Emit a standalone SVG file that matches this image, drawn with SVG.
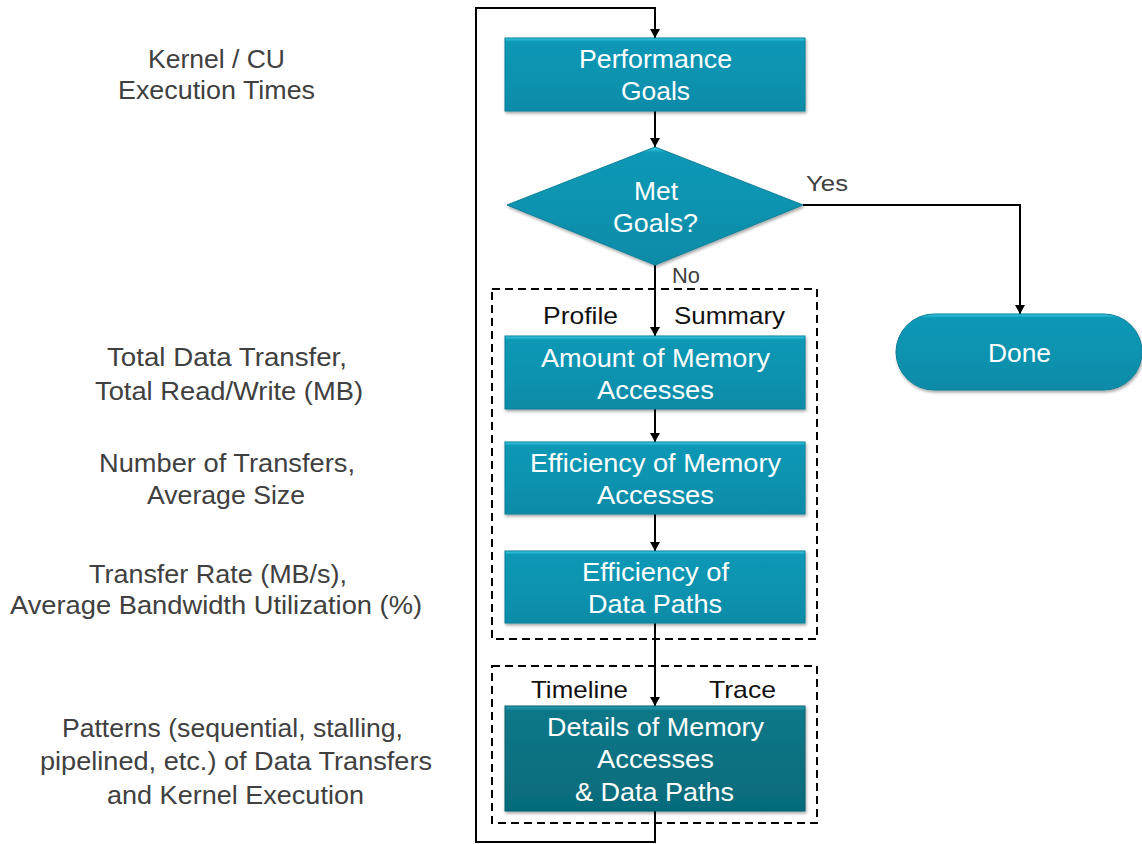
<svg xmlns="http://www.w3.org/2000/svg" width="1142" height="844" viewBox="0 0 1142 844">
<style>
.side{font-family:"Liberation Sans",Arial,sans-serif;font-size:25px;fill:#404040;text-anchor:middle}
.lbl{font-family:"Liberation Sans",Arial,sans-serif;font-size:24px;fill:#111;text-anchor:middle}
.yn{font-family:"Liberation Sans",Arial,sans-serif;font-size:22px;fill:#404040;text-anchor:middle}
.bt{font-family:"Liberation Sans",Arial,sans-serif;font-size:26px;fill:#fff;text-anchor:middle}
.box{fill:url(#g1);stroke:#0a7f98;stroke-width:1;filter:url(#sh)}
.dbox{fill:url(#g2);stroke:#075f6e;stroke-width:1;filter:url(#sh)}
.conn{fill:none;stroke:#000;stroke-width:2}
.dash{fill:none;stroke:#000;stroke-width:2;stroke-dasharray:8,5}
</style>
<defs>
<linearGradient id="g1" x1="0" y1="0" x2="0" y2="1">
<stop offset="0" stop-color="#3fd0ea"/>
<stop offset="0.05" stop-color="#0c98b5"/>
<stop offset="0.5" stop-color="#0893b0"/>
<stop offset="1" stop-color="#078ba7"/>
</linearGradient>
<linearGradient id="g2" x1="0" y1="0" x2="0" y2="1">
<stop offset="0" stop-color="#2a9fb3"/>
<stop offset="0.05" stop-color="#0b7788"/>
<stop offset="1" stop-color="#066b7b"/>
</linearGradient>
<filter id="sh" x="-10%" y="-10%" width="120%" height="130%">
<feDropShadow dx="1" dy="2" stdDeviation="1.5" flood-color="#000" flood-opacity="0.35"/>
</filter>
<marker id="ah" viewBox="0 0 10 10" refX="10" refY="5" markerWidth="9" markerHeight="10" orient="auto" markerUnits="userSpaceOnUse" preserveAspectRatio="none">
<path d="M0,0 L10,5 L0,10 z" fill="#000"/>
</marker>
</defs>

<g id="side-labels">
<text class="side" x="216.5" y="68" textLength="137" lengthAdjust="spacingAndGlyphs">Kernel / CU</text>
<text class="side" x="216.5" y="99" textLength="197" lengthAdjust="spacingAndGlyphs">Execution Times</text>
<text class="side" x="227" y="366" textLength="240" lengthAdjust="spacingAndGlyphs">Total Data Transfer,</text>
<text class="side" x="229" y="400" textLength="268" lengthAdjust="spacingAndGlyphs">Total Read/Write (MB)</text>
<text class="side" x="227" y="472" textLength="256" lengthAdjust="spacingAndGlyphs">Number  of Transfers,</text>
<text class="side" x="226" y="504" textLength="158" lengthAdjust="spacingAndGlyphs">Average Size</text>
<text class="side" x="218" y="583" textLength="258" lengthAdjust="spacingAndGlyphs">Transfer Rate (MB/s),</text>
<text class="side" x="216" y="614" textLength="412" lengthAdjust="spacingAndGlyphs">Average Bandwidth  Utilization  (%)</text>
<text class="side" x="232.5" y="737" textLength="341" lengthAdjust="spacingAndGlyphs">Patterns (sequential,  stalling,</text>
<text class="side" x="236" y="770" textLength="392" lengthAdjust="spacingAndGlyphs">pipelined,  etc.) of Data Transfers</text>
<text class="side" x="235.5" y="804" textLength="257" lengthAdjust="spacingAndGlyphs">and Kernel Execution</text>
</g>

<g id="groups">
<rect class="dash" x="492" y="289" width="325" height="350"/>
<rect class="dash" x="492" y="666" width="325" height="157"/>
<text class="lbl" x="580.5" y="324" textLength="75" lengthAdjust="spacingAndGlyphs">Profile</text>
<text class="lbl" x="729.5" y="324" textLength="111" lengthAdjust="spacingAndGlyphs">Summary</text>
<text class="lbl" x="579.5" y="698" textLength="97" lengthAdjust="spacingAndGlyphs">Timeline</text>
<text class="lbl" x="742.5" y="698" textLength="67" lengthAdjust="spacingAndGlyphs">Trace</text>
</g>

<g id="connectors">
<path class="conn" d="M655,811 V842 H476 V8 H655 V38" marker-end="url(#ah)"/>
<path class="conn" d="M655,111 V147" marker-end="url(#ah)"/>
<path class="conn" d="M655,265 V336" marker-end="url(#ah)"/>
<path class="conn" d="M803,205 H1020 V314" marker-end="url(#ah)"/>
<path class="conn" d="M655,409 V442" marker-end="url(#ah)"/>
<path class="conn" d="M655,514 V551" marker-end="url(#ah)"/>
<path class="conn" d="M655,623 V706" marker-end="url(#ah)"/>
<text class="yn" x="827" y="191" textLength="42" lengthAdjust="spacingAndGlyphs">Yes</text>
<text class="yn" x="686" y="283" textLength="28" lengthAdjust="spacingAndGlyphs">No</text>
</g>

<g id="performance-goals">
<rect class="box" x="505" y="38" width="300" height="73"/>
<text class="bt" x="655.5" y="68" textLength="153" lengthAdjust="spacingAndGlyphs">Performance</text>
<text class="bt" x="655.5" y="100" textLength="69" lengthAdjust="spacingAndGlyphs">Goals</text>
</g>

<g id="met-goals">
<path class="box" d="M655,147 L803,205 L655,265 L507,205 z"/>
<text class="bt" x="656" y="200" textLength="44" lengthAdjust="spacingAndGlyphs">Met</text>
<text class="bt" x="655.5" y="232" textLength="85" lengthAdjust="spacingAndGlyphs">Goals?</text>
</g>

<g id="done">
<rect class="box" x="896" y="314" width="246" height="76" rx="38" ry="38"/>
<text class="bt" x="1019.5" y="362" textLength="63" lengthAdjust="spacingAndGlyphs">Done</text>
</g>

<g id="amount">
<rect class="box" x="505" y="336" width="300" height="73"/>
<text class="bt" x="655.5" y="367" textLength="229" lengthAdjust="spacingAndGlyphs">Amount  of Memory</text>
<text class="bt" x="655.5" y="399" textLength="117" lengthAdjust="spacingAndGlyphs">Accesses</text>
</g>

<g id="efficiency-memory">
<rect class="box" x="505" y="442" width="300" height="72"/>
<text class="bt" x="655.5" y="472" textLength="251" lengthAdjust="spacingAndGlyphs">Efficiency of Memory</text>
<text class="bt" x="655.5" y="504" textLength="117" lengthAdjust="spacingAndGlyphs">Accesses</text>
</g>

<g id="efficiency-paths">
<rect class="box" x="505" y="551" width="300" height="72"/>
<text class="bt" x="655.5" y="581" textLength="147" lengthAdjust="spacingAndGlyphs">Efficiency of</text>
<text class="bt" x="655" y="613" textLength="134" lengthAdjust="spacingAndGlyphs">Data Paths</text>
</g>

<g id="details">
<rect class="dbox" x="505" y="706" width="300" height="105"/>
<text class="bt" x="655.5" y="736" textLength="217" lengthAdjust="spacingAndGlyphs">Details of Memory</text>
<text class="bt" x="655.5" y="768" textLength="117" lengthAdjust="spacingAndGlyphs">Accesses</text>
<text class="bt" x="654.5" y="801" textLength="159" lengthAdjust="spacingAndGlyphs">&amp; Data Paths</text>
</g>
</svg>
